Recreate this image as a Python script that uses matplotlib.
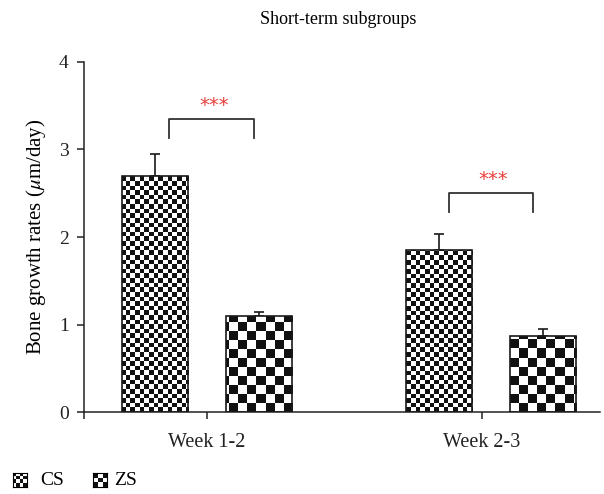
import numpy as np
import matplotlib
matplotlib.use("Agg")
import matplotlib.pyplot as plt
from matplotlib.colors import ListedColormap

# ---- data ----
categories = ["Week 1-2", "Week 2-3"]
series = ["CS", "ZS"]
cs_values = [2.70, 1.85]
cs_err = [0.25, 0.18]
zs_values = [1.10, 0.87]
zs_err = [0.04, 0.08]
sig_labels = ["***", "***"]
# bracket levels (top, leg bottom) per group
bracket_top = [3.345, 2.50]
bracket_leg = [3.128, 2.28]
star_y = [3.50, 2.66]

plt.rcParams['font.family'] = ['Liberation Serif', 'DejaVu Serif']
plt.rcParams['mathtext.fontset'] = 'stix'

W, H = 604, 494
fig = plt.figure(figsize=(W / 100, H / 100), dpi=100)
ax = fig.add_axes([84 / W, (H - 412) / H, (600 - 84) / W, 350 / H])

tick_pos = np.array([0.0, 1.0])
group_pos = np.array([0.0, 1.033])
off = 0.189
bw = 0.24

xlim = (-0.447, 1.429)
ylim = (0, 4)
ax.set_xlim(*xlim)
ax.set_ylim(*ylim)

edge = '#1a1a1a'
bars_cs = ax.bar(group_pos - off, cs_values, bw, facecolor='none', edgecolor=edge, linewidth=1.2, zorder=3)
bars_zs = ax.bar(group_pos + off, zs_values, bw, facecolor='none', edgecolor=edge, linewidth=1.2, zorder=3)

ax.errorbar(group_pos - off, cs_values, yerr=[np.zeros(2), cs_err], fmt='none',
            ecolor=edge, elinewidth=1.2, capsize=3.3, capthick=1.2, zorder=2)
ax.errorbar(group_pos + off, zs_values, yerr=[np.zeros(2), zs_err], fmt='none',
            ecolor=edge, elinewidth=1.2, capsize=3.3, capthick=1.2, zorder=2)

cmap = ListedColormap(['#111111', 'white'])
axw, axh = 516, 350


def checker(cell):
    nx, ny = int(round(axw / cell)), int(round(axh / cell))
    return np.indices((ny, nx)).sum(0) % 2


for bars, cell in ((bars_cs, 4.6), (bars_zs, 9.0)):
    img = checker(cell)
    for p in bars:
        im = ax.imshow(img, cmap=cmap, extent=[xlim[0], xlim[1], ylim[0], ylim[1]],
                       aspect='auto', interpolation='nearest', origin='lower', zorder=2.5)
        im.set_clip_path(p)

# significance brackets
bx0 = [-0.138, 0.879]
bx1 = [0.171, 1.184]
for i in range(2):
    ax.plot([bx0[i], bx0[i], bx1[i], bx1[i]],
            [bracket_leg[i], bracket_top[i], bracket_top[i], bracket_leg[i]],
            color='#333333', lw=1.3, zorder=4, clip_on=False)
    ax.text((bx0[i] + bx1[i]) / 2 + 0.01, star_y[i], sig_labels[i], color='#e8413c',
            ha='center', va='center', fontsize=14, family='DejaVu Sans')

ax.set_xticks(tick_pos)
ax.set_xticklabels(categories, fontsize=14.5)
ax.set_xticks([xlim[0]], minor=True)
ax.set_yticks([0, 1, 2, 3, 4])
ax.tick_params(axis='both', which='both', direction='out', length=5, width=1.1, colors='#222222')
ax.tick_params(axis='x', pad=10, labelsize=14.5)
ax.tick_params(axis='y', pad=6, labelsize=14)
for s in ('top', 'right'):
    ax.spines[s].set_visible(False)
for s in ('left', 'bottom'):
    ax.spines[s].set_linewidth(1.1)
    ax.spines[s].set_color('#222222')

ax.set_ylabel(r"Bone growth rates ($\mu$m/day)", fontsize=15, labelpad=8)
fig.text(338 / W, 1 - 20 / H, "Short-term subgroups", ha='center', va='center', fontsize=13)

# legend
for name, cell_n, x0, tx in ((series[0], 4, 13, 40), (series[1], 3, 93, 114)):
    lax = fig.add_axes([x0 / W, (H - 487) / H, 14 / W, 14 / H])
    lax.imshow(np.indices((cell_n, cell_n)).sum(0) % 2, cmap=cmap, interpolation='nearest')
    lax.set_xticks([]); lax.set_yticks([])
    for sp in lax.spines.values():
        sp.set_linewidth(0.8)
    fig.text(tx / W, 1 - 480 / H, name, ha='left', va='center', fontsize=14)

fig.savefig('out.png', dpi=100)
